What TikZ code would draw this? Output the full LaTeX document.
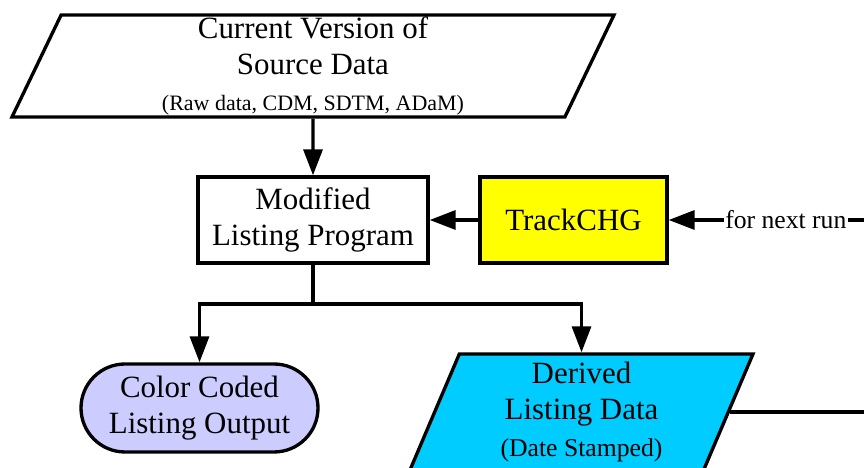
\documentclass[tikz,border=0pt]{standalone}
\usepackage{fontspec}
\setmainfont{Liberation Serif}
\usetikzlibrary{shapes.geometric, arrows.meta}

\newcommand{\bigtxt}{\fontsize{17.6}{20.5}\selectfont}
\newcommand{\smalltxt}{\fontsize{12.5}{14}\selectfont}
\newcommand{\midtxt}{\fontsize{14.6}{17}\selectfont}

\definecolor{trackyellow}{RGB}{255,255,0}
\definecolor{derivedblue}{RGB}{0,204,255}
\definecolor{outputlilac}{RGB}{204,204,255}

\begin{document}
\begin{tikzpicture}[
		line width=1.9pt,
		box/.style={draw, rectangle, align=center, font=\bigtxt, minimum height=1.72cm},
		datashape/.style={draw, trapezium, trapezium left angle=63.5, trapezium right angle=116.5,
			trapezium stretches body=true, inner ysep=0pt, align=center, font=\bigtxt},
		arr/.style={-{Triangle[length=5.2mm, width=3.8mm]}}
	]
		\path[use as bounding box, clip] (0,0) rectangle (17.28,9.36);
		
		% Datos de entrada
		\node[datashape, minimum width=12.04cm, minimum height=2.04cm] (src) at (6.26,8.04)
			{Current Version of\\Source Data\\{\smalltxt (Raw data, CDM, SDTM, ADaM)}};
		
		% Programa y TrackCHG
		\node[box, minimum width=4.6cm] (prog) at (6.26,4.96) {Modified\\Listing Program};
		\node[box, fill=trackyellow, minimum width=3.74cm] (track) at (11.47,4.96) {TrackCHG};
		
		% Salidas
		\node[draw, fill=outputlilac, rounded corners=8.8mm, align=center, font=\bigtxt,
			minimum width=4.74cm, minimum height=1.76cm] (out) at (3.99,1.2) {Color Coded\\Listing Output};
		\node[datashape, fill=derivedblue, minimum width=6.86cm, minimum height=2.32cm] (derived) at (11.63,1.12)
			{Derived\\Listing Data\\{\midtxt (Date Stamped)}};
		
		\draw[arr] (src) -- (prog);
		\draw[arr] (track) -- (prog);
		
		% Bifurcacion
		\coordinate (split) at (6.26,3.28);
		\draw (prog.south) -- (split);
		\draw[arr] (split) -| (out);
		\draw[arr] (split) -| (derived);
		
		% Retorno
		\coordinate (back) at (18.06,4.96);
		\draw (derived.east) -| (back);
		\draw[arr] (back) -- (track.east) node[midway, fill=white, inner sep=1pt, font=\midtxt] (nextrun) {for next run};
	\end{tikzpicture}
\end{document}
